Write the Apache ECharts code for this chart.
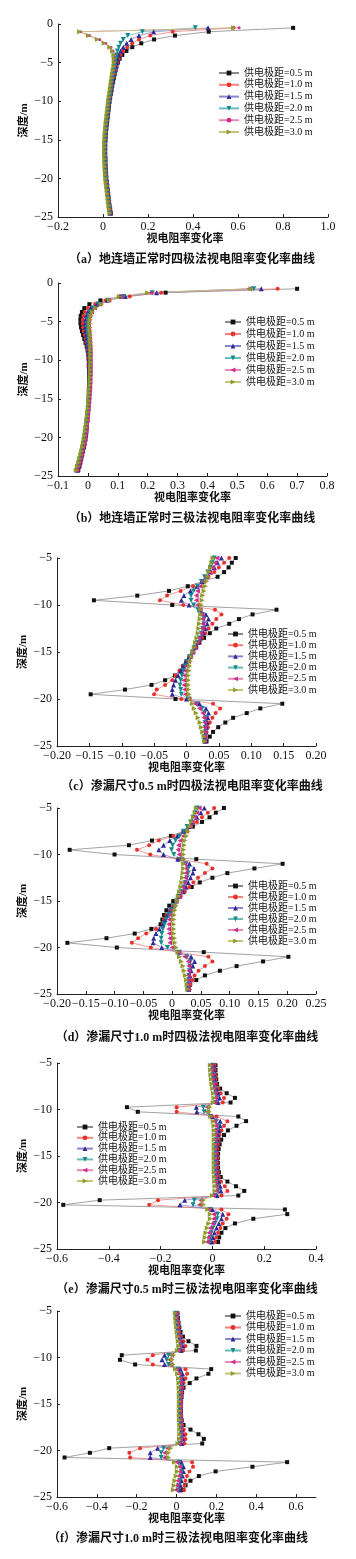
<!DOCTYPE html>
<html><head><meta charset="utf-8">
<script src="https://cdn.jsdelivr.net/npm/echarts@6/dist/echarts.min.js"></script>
<style>html,body{margin:0;padding:0;background:#fff}#c{width:356px;height:1559px}</style>
</head><body><div id="c"></div>
<script>
// ---------- depths (m) ----------
const depthA = [-0.5,-1,-1.5,-2,-2.5,-3,-3.5,-4,-4.5,-5,-5.5,-6,-6.5,-7,-7.5,-8,-8.5,-9,-9.5,-10,-10.5,-11,-11.5,-12,-12.5,-13,-13.5,-14,-14.5,-15,-15.5,-16,-16.5,-17,-17.5,-18,-18.5,-19,-19.5,-20,-20.5,-21,-21.5,-22,-22.5,-23,-23.5,-24,-24.5];
const depthB = [-0.75,-1.25,-1.75,-2.25,-2.75,-3.25,-3.75,-4.25,-4.75,-5.25,-5.75,-6.25,-6.75,-7.25,-7.75,-8.25,-8.75,-9.25,-9.75,-10.25,-10.75,-11.25,-11.75,-12.25,-12.75,-13.25,-13.75,-14.25,-14.75,-15.25,-15.75,-16.25,-16.75,-17.25,-17.75,-18.25,-18.75,-19.25,-19.75,-20.25,-20.75,-21.25,-21.75,-22.25,-22.75,-23.25,-23.75,-24.25];
const depthCD = [-5,-5.5,-6,-6.5,-7,-7.5,-8,-8.5,-9,-9.5,-10,-10.5,-11,-11.5,-12,-12.5,-13,-13.5,-14,-14.5,-15,-15.5,-16,-16.5,-17,-17.5,-18,-18.5,-19,-19.5,-20,-20.5,-21,-21.5,-22,-22.5,-23,-23.5,-24,-24.5];
const depthEF = [-5.25,-5.75,-6.25,-6.75,-7.25,-7.75,-8.25,-8.75,-9.25,-9.75,-10.25,-10.75,-11.25,-11.75,-12.25,-12.75,-13.25,-13.75,-14.25,-14.75,-15.25,-15.75,-16.25,-16.75,-17.25,-17.75,-18.25,-18.75,-19.25,-19.75,-20.25,-20.75,-21.25,-21.75,-22.25,-22.75,-23.25,-23.75,-24.25];

const seriesNames = ['供电极距=0.5 m','供电极距=1.0 m','供电极距=1.5 m','供电极距=2.0 m','供电极距=2.5 m','供电极距=3.0 m'];

// ---------- (a) ----------
const a05 = [0.845,0.47,0.32,0.227,0.17,0.13,0.104,0.086,0.074,0.066, 0.06,0.056,0.052,0.048,0.045,0.041,0.038,0.035,0.032,0.029, 0.027,0.025,0.023,0.021,0.019,0.017,0.015,0.013,0.012,0.011, 0.01,0.01,0.01,0.01,0.011,0.011,0.012,0.013,0.014,0.015, 0.017,0.019,0.021,0.023,0.025,0.027,0.029,0.032,0.035];
const a10 = [0.58,0.31,0.21,0.16,0.13,0.108,0.09,0.078,0.07,0.063, 0.058,0.054,0.05,0.046,0.043,0.04,0.037,0.034,0.031,0.028, 0.026,0.024,0.022,0.02,0.018,0.016,0.014,0.013,0.011,0.01, 0.009,0.009,0.009,0.009,0.01,0.01,0.011,0.012,0.013,0.014, 0.016,0.018,0.02,0.022,0.024,0.026,0.028,0.031,0.034];
const a15 = [0.467,0.225,0.16,0.125,0.105,0.09,0.078,0.07,0.064,0.06, 0.056,0.052,0.048,0.045,0.042,0.039,0.036,0.033,0.03,0.028, 0.025,0.023,0.021,0.019,0.017,0.015,0.014,0.012,0.011,0.01, 0.009,0.008,0.008,0.009,0.009,0.01,0.01,0.011,0.012,0.013, 0.015,0.017,0.019,0.021,0.023,0.025,0.027,0.03,0.033];
const a20 = [0.41,0.175,0.11,0.09,0.078,0.07,0.064,0.06,0.057,0.055, 0.052,0.049,0.046,0.043,0.04,0.037,0.035,0.032,0.03,0.027, 0.025,0.022,0.02,0.018,0.016,0.015,0.013,0.012,0.01,0.009, 0.008,0.008,0.008,0.008,0.009,0.009,0.01,0.011,0.012,0.013, 0.014,0.016,0.018,0.02,0.022,0.024,0.026,0.028,0.031];
const a25 = [0.605,-0.1,-0.06,-0.015,0.012,0.035,0.045,0.05,0.052,0.052, 0.05,0.047,0.044,0.041,0.038,0.036,0.033,0.031,0.028,0.026, 0.024,0.021,0.019,0.017,0.016,0.014,0.012,0.011,0.01,0.009, 0.008,0.007,0.007,0.008,0.008,0.009,0.01,0.011,0.012,0.013, 0.015,0.017,0.019,0.021,0.023,0.025,0.027,0.029,0.032];
const a30 = [0.58,-0.104,-0.065,-0.025,0.005,0.03,0.042,0.048,0.05,0.05, 0.048,0.045,0.042,0.04,0.037,0.035,0.032,0.03,0.027,0.025, 0.023,0.021,0.019,0.017,0.015,0.013,0.012,0.01,0.009,0.008, 0.007,0.007,0.007,0.007,0.008,0.008,0.009,0.01,0.011,0.012, 0.014,0.016,0.018,0.02,0.022,0.024,0.026,0.028,0.03];

// ---------- (b) ----------
const b05 = [0.70,0.26,0.11,0.042,0.005,-0.012,-0.02,-0.024,-0.025,-0.025, -0.023,-0.02,-0.016,-0.012,-0.008,-0.004,-0.001,0.001,0.002,0.003, 0.003,0.004,0.004,0.004,0.004,0.004,0.003,0.003,0.003,0.002, 0.002,0.001,0.0,-0.001,-0.002,-0.003,-0.004,-0.005,-0.006,-0.008, -0.011,-0.013,-0.016,-0.019,-0.022,-0.025,-0.028,-0.032];
const b10 = [0.635,0.245,0.14,0.06,0.025,0.0,-0.01,-0.015,-0.017,-0.017, -0.016,-0.014,-0.011,-0.008,-0.005,-0.002,0.0,0.002,0.003,0.004, 0.004,0.005,0.005,0.005,0.005,0.005,0.004,0.004,0.003,0.003, 0.002,0.001,0.0,-0.001,-0.002,-0.003,-0.004,-0.006,-0.007,-0.009, -0.011,-0.014,-0.017,-0.02,-0.023,-0.026,-0.03,-0.034];
const b15 = [0.58,0.23,0.125,0.065,0.03,0.01,0.0,-0.006,-0.008,-0.009, -0.009,-0.008,-0.006,-0.004,-0.002,0.0,0.002,0.003,0.004,0.005, 0.005,0.006,0.006,0.006,0.006,0.005,0.005,0.004,0.004,0.003, 0.002,0.001,0.0,-0.001,-0.002,-0.004,-0.005,-0.006,-0.008,-0.01, -0.012,-0.015,-0.018,-0.021,-0.024,-0.027,-0.031,-0.035];
const b20 = [0.555,0.215,0.12,0.068,0.035,0.017,0.007,0.001,-0.002,-0.003, -0.003,-0.002,-0.001,0.001,0.002,0.004,0.005,0.006,0.006,0.007, 0.007,0.007,0.007,0.007,0.006,0.006,0.005,0.005,0.004,0.003, 0.002,0.001,0.0,-0.001,-0.003,-0.004,-0.006,-0.007,-0.009,-0.011, -0.013,-0.016,-0.019,-0.022,-0.025,-0.029,-0.033,-0.037];
const b25 = [0.54,0.21,0.11,0.07,0.04,0.022,0.012,0.006,0.003,0.002, 0.002,0.003,0.004,0.005,0.006,0.007,0.008,0.008,0.008,0.008, 0.008,0.008,0.008,0.007,0.007,0.006,0.006,0.005,0.004,0.003, 0.002,0.001,0.0,-0.002,-0.003,-0.005,-0.006,-0.008,-0.01,-0.012, -0.014,-0.017,-0.02,-0.023,-0.027,-0.03,-0.034,-0.038];
const b30 = [0.545,0.2,0.105,0.072,0.045,0.027,0.016,0.011,0.008,0.007, 0.007,0.008,0.009,0.009,0.01,0.01,0.01,0.01,0.01,0.01, 0.009,0.009,0.009,0.008,0.008,0.007,0.006,0.005,0.004,0.003, 0.002,0.001,-0.001,-0.002,-0.004,-0.005,-0.007,-0.009,-0.011,-0.013, -0.015,-0.018,-0.021,-0.024,-0.028,-0.031,-0.035,-0.039];

// ---------- (c) ----------
const c05 = [0.076,0.07,0.065,0.058,0.048,0.025,0.002,-0.027,-0.076,-0.143, -0.022,0.139,0.102,0.081,0.066,0.046,0.036,0.027,0.02,0.015, 0.01,0.005,0.0,-0.005,-0.01,-0.018,-0.033,-0.054,-0.095,-0.148, -0.017,0.148,0.114,0.093,0.072,0.06,0.049,0.041,0.036,0.031];
const c10 = [0.066,0.058,0.05,0.043,0.034,0.024,0.01,-0.009,-0.03,-0.041, -0.005,0.044,0.054,0.046,0.04,0.034,0.029,0.024,0.019,0.014, 0.009,0.004,-0.001,-0.006,-0.011,-0.017,-0.022,-0.033,-0.046,-0.05, -0.008,0.041,0.052,0.045,0.04,0.036,0.033,0.031,0.03,0.029];
const c15 = [0.054,0.048,0.043,0.037,0.031,0.024,0.016,0.006,-0.004,-0.008, 0.004,0.02,0.03,0.034,0.032,0.029,0.026,0.022,0.018,0.013, 0.009,0.004,-0.001,-0.005,-0.009,-0.013,-0.017,-0.02,-0.022,-0.022, 0.0,0.02,0.03,0.034,0.033,0.032,0.031,0.03,0.029,0.029];
const c20 = [0.043,0.04,0.037,0.033,0.028,0.023,0.017,0.011,0.007,0.007, 0.011,0.018,0.024,0.027,0.027,0.025,0.023,0.02,0.017,0.013, 0.009,0.005,0.001,-0.002,-0.005,-0.007,-0.009,-0.01,-0.009,-0.008, 0.003,0.016,0.024,0.028,0.029,0.029,0.029,0.029,0.028,0.028];
const c25 = [0.047,0.044,0.04,0.036,0.031,0.026,0.021,0.017,0.015,0.015, 0.017,0.021,0.024,0.025,0.025,0.024,0.022,0.019,0.016,0.013, 0.01,0.006,0.003,0.0,-0.002,-0.003,-0.004,-0.004,-0.003,-0.002, 0.004,0.013,0.02,0.025,0.027,0.028,0.028,0.028,0.028,0.028];
const c30 = [0.041,0.039,0.037,0.035,0.033,0.031,0.029,0.027,0.025,0.024, 0.023,0.022,0.022,0.021,0.02,0.019,0.018,0.016,0.014,0.012, 0.01,0.008,0.006,0.005,0.004,0.003,0.003,0.003,0.003,0.004, 0.006,0.009,0.012,0.015,0.018,0.021,0.023,0.025,0.027,0.028];

// ---------- (d) ----------
const d05 = [0.09,0.076,0.065,0.052,0.036,0.02,-0.002,-0.035,-0.075,-0.178, -0.1,0.042,0.192,0.143,0.096,0.07,0.048,0.034,0.02,0.01, 0.002,-0.005,-0.01,-0.014,-0.017,-0.02,-0.036,-0.065,-0.114,-0.182, -0.096,0.055,0.202,0.158,0.112,0.083,0.057,0.042,0.031,0.028];
const d10 = [0.073,0.062,0.052,0.043,0.033,0.02,0.002,-0.023,-0.04,-0.061, -0.038,0.01,0.06,0.07,0.057,0.045,0.037,0.03,0.022,0.015, 0.008,0.002,-0.004,-0.01,-0.014,-0.016,-0.028,-0.045,-0.059,-0.07, -0.037,0.01,0.063,0.07,0.057,0.046,0.039,0.035,0.032,0.03];
const d15 = [0.056,0.05,0.043,0.036,0.029,0.02,0.009,-0.004,-0.015,-0.023, -0.015,0.01,0.03,0.038,0.036,0.032,0.028,0.024,0.019,0.013, 0.007,0.002,-0.003,-0.008,-0.012,-0.016,-0.022,-0.028,-0.032,-0.033, -0.018,0.012,0.033,0.039,0.036,0.033,0.031,0.03,0.029,0.029];
const d20 = [0.044,0.04,0.036,0.032,0.026,0.02,0.013,0.006,0.001,-0.001, 0.003,0.015,0.024,0.028,0.028,0.026,0.023,0.02,0.016,0.012, 0.007,0.002,-0.002,-0.006,-0.01,-0.013,-0.016,-0.018,-0.019,-0.019, -0.008,0.012,0.026,0.032,0.031,0.03,0.029,0.029,0.028,0.028];
const d25 = [0.047,0.043,0.039,0.035,0.03,0.025,0.019,0.014,0.011,0.01, 0.012,0.017,0.022,0.024,0.024,0.023,0.021,0.018,0.015,0.011, 0.007,0.003,0.0,-0.003,-0.005,-0.006,-0.006,-0.005,-0.004,-0.004, 0.0,0.012,0.022,0.028,0.029,0.029,0.028,0.028,0.027,0.027];
const d30 = [0.042,0.04,0.037,0.034,0.031,0.028,0.025,0.022,0.021,0.02, 0.02,0.02,0.02,0.02,0.019,0.018,0.017,0.015,0.013,0.011, 0.009,0.007,0.005,0.004,0.003,0.003,0.003,0.003,0.004,0.005, 0.007,0.01,0.013,0.016,0.019,0.021,0.023,0.025,0.026,0.027];

// ---------- (e) ----------
const e05 = [0.012,0.012,0.013,0.015,0.018,0.03,0.055,0.087,0.07,-0.33, -0.288,0.10,0.13,0.093,0.06,0.045,0.034,0.028,0.024,0.022, 0.021,0.021,0.022,0.025,0.032,0.058,0.091,0.123,0.1,-0.435, -0.576,0.28,0.289,0.158,0.087,0.05,0.035,0.026,0.022];
const e10 = [0.008,0.009,0.01,0.012,0.015,0.022,0.032,0.045,0.04,-0.138, -0.138,0.016,0.058,0.045,0.035,0.028,0.024,0.021,0.019,0.018, 0.018,0.018,0.019,0.021,0.025,0.033,0.048,0.058,0.035,-0.21, -0.244,0.035,0.062,0.055,0.04,0.031,0.022,0.015,0.01];
const e15 = [0.004,0.005,0.006,0.008,0.011,0.016,0.022,0.028,0.022,-0.062, -0.06,0.0,0.03,0.03,0.026,0.022,0.019,0.017,0.016,0.015, 0.015,0.015,0.016,0.017,0.02,0.024,0.03,0.033,0.018,-0.107, -0.125,0.0,0.04,0.035,0.025,0.016,0.008,0.002,-0.002];
const e20 = [0.0,0.001,0.002,0.004,0.007,0.01,0.014,0.018,0.013,-0.035, -0.032,-0.008,0.015,0.02,0.018,0.016,0.014,0.013,0.012,0.012, 0.012,0.012,0.012,0.013,0.015,0.017,0.02,0.022,0.01,-0.07, -0.075,-0.01,0.02,0.018,0.01,0.002,-0.004,-0.008,-0.011];
const e25 = [-0.004,-0.003,-0.002,0.0,0.003,0.006,0.009,0.012,0.008,-0.02, -0.02,-0.008,0.008,0.012,0.012,0.011,0.01,0.01,0.009,0.009, 0.009,0.009,0.009,0.01,0.011,0.012,0.014,0.015,0.004,-0.045, -0.05,-0.015,0.005,0.005,0.0,-0.008,-0.013,-0.017,-0.02];
const e30 = [-0.008,-0.007,-0.006,-0.004,-0.002,0.001,0.004,0.006,0.003,-0.01, -0.012,-0.006,0.003,0.006,0.007,0.007,0.007,0.007,0.007,0.007, 0.007,0.007,0.007,0.007,0.008,0.009,0.01,0.01,0.0,-0.035, -0.035,-0.018,-0.008,-0.008,-0.014,-0.02,-0.025,-0.028,-0.03];

// ---------- (f) ----------
const f05 = [0.005,0.007,0.01,0.014,0.02,0.032,0.06,0.1,0.097,-0.275, -0.284,-0.208,0.174,0.16,0.1,0.066,0.035,0.028,0.025,0.023, 0.022,0.022,0.023,0.026,0.035,0.07,0.11,0.137,0.129,-0.338, -0.435,-0.562,0.555,0.381,0.196,0.112,0.07,0.045,0.033];
const f10 = [0.003,0.005,0.008,0.011,0.015,0.022,0.035,0.045,0.033,-0.119, -0.146,-0.119,0.045,0.053,0.045,0.036,0.03,0.026,0.024,0.022, 0.021,0.021,0.022,0.024,0.028,0.036,0.045,0.045,0.04,-0.183, -0.237,-0.233,0.078,0.083,0.065,0.052,0.045,0.04,0.038];
const f15 = [0.001,0.003,0.006,0.009,0.012,0.017,0.025,0.032,0.022,-0.06, -0.073,-0.06,0.02,0.03,0.032,0.028,0.025,0.023,0.022,0.021, 0.02,0.02,0.021,0.022,0.024,0.028,0.032,0.032,0.026,-0.095, -0.132,-0.132,0.025,0.035,0.035,0.03,0.025,0.02,0.018];
const f20 = [-0.002,0.0,0.003,0.006,0.009,0.013,0.018,0.022,0.014,-0.04, -0.05,-0.04,0.008,0.02,0.024,0.022,0.021,0.02,0.019,0.019, 0.019,0.019,0.019,0.02,0.021,0.023,0.025,0.025,0.018,-0.065, -0.077,-0.077,0.012,0.025,0.027,0.022,0.016,0.011,0.008];
const f25 = [-0.004,-0.002,0.0,0.003,0.006,0.009,0.013,0.016,0.008,-0.025, -0.035,-0.028,0.0,0.012,0.017,0.018,0.018,0.018,0.017,0.017, 0.017,0.017,0.017,0.018,0.019,0.02,0.021,0.02,0.012,-0.045, -0.06,-0.06,0.0,0.015,0.016,0.011,0.006,0.001,-0.003];
const f30 = [-0.006,-0.004,-0.002,0.0,0.003,0.006,0.009,0.011,0.004,-0.015, -0.022,-0.018,-0.005,0.005,0.01,0.012,0.013,0.014,0.014,0.014, 0.014,0.014,0.014,0.015,0.016,0.016,0.016,0.015,0.007,-0.03, -0.04,-0.04,-0.01,0.004,0.004,-0.002,-0.008,-0.012,-0.016];

// ---------- layout / style ----------
const NUMFONT = '"Liberation Serif", "Times New Roman", serif';
const CNFONT = '"Liberation Serif", "Noto Sans CJK SC", serif';

const panels = [
  {d: depthA, v: [a05,a10,a15,a20,a25,a30], g: [58,24,270,193], x: [-0.2,1.0,0.2,1], y: [-25,0], lg: [218,68,20,1.8], cap: ['（a）地连墙正常时四极法视电阻率变化率曲线',192,260], namePad: [0,16,0,0], dot: true},
  {d: depthB, v: [b05,b10,b15,b20,b25,b30], g: [58,283,269,193], x: [-0.1,0.8,0.1,1], y: [-25,0], lg: [224,317,16,2], cap: ['（b）地连墙正常时三极法视电阻率变化率曲线',192,519]},
  {d: depthCD, v: [c05,c10,c15,c20,c25,c30], g: [57,558,259,188], x: [-0.2,0.2,0.05,2], y: [-25,-5], lg: [227,629,15,1.2], cap: ['（c）渗漏尺寸0.5 m时四极法视电阻率变化率曲线',192,787]},
  {d: depthCD, v: [d05,d10,d15,d20,d25,d30], g: [57,808,259,186], x: [-0.2,0.25,0.05,2], y: [-25,-5], lg: [227,881,15,1], cap: ['（d）渗漏尺寸1.0 m时四极法视电阻率变化率曲线',187,1038]},
  {d: depthEF, v: [e05,e10,e15,e20,e25,e30], g: [57,1063,259,186], x: [-0.6,0.4,0.2,1], y: [-25,-5], lg: [76,1122,16,0.8], cap: ['（e）渗漏尺寸0.5 m时三极法视电阻率变化率曲线',187,1290]},
  {d: depthEF, v: [f05,f10,f15,f20,f25,f30], g: [57,1311,259,186], x: [-0.6,0.7,0.2,1], y: [-25,-5], lg: [224,1311,16,1.5], cap: ['（f）渗漏尺寸1.0 m时三极法视电阻率变化率曲线',178,1539], hideMax: true}
];

const sty = [
  {symbol: 'rect', size: 4, rot: 0, color: '#111111', line: '#8a8a8a'},
  {symbol: 'circle', size: 4, rot: 0, color: '#e8312c', line: '#f08282'},
  {symbol: 'triangle', size: 5, rot: 0, color: '#2e2a96', line: '#8a86c8'},
  {symbol: 'triangle', size: 5, rot: 180, color: '#138a8a', line: '#6cbaba'},
  {symbol: 'triangle', size: 5, rot: 90, color: '#d02c8c', line: '#e58ab8'},
  {symbol: 'triangle', size: 5, rot: -90, color: '#8f9a2a', line: '#c4c47a'}
];

function fmtX(dec) {
  return function (v) {
    if (Math.abs(v) < 1e-9) return '0';
    return (v < 0 ? '\u2212' : '') + Math.abs(v).toFixed(dec);
  };
}
function fmtY(v) {
  if (Math.abs(v) < 1e-9) return '0';
  return (v < 0 ? '\u2212' : '') + Math.abs(v);
}

const grid = [], xAxis = [], yAxis = [], series = [], legend = [], graphic = [];
panels.forEach(function (p, i) {
  grid.push({left: p.g[0], top: p.g[1], width: p.g[2], height: p.g[3], containLabel: false});
  const axisCommon = {
    gridIndex: i,
    axisLine: {show: true, onZero: false, lineStyle: {color: '#222', width: 1}},
    axisTick: {show: true, inside: true, length: 3, lineStyle: {color: '#222', width: 1}},
    splitLine: {show: false},
    nameMoveOverlap: false
  };
  xAxis.push(Object.assign({}, axisCommon, {
    type: 'value', min: p.x[0], max: p.x[1], interval: p.x[2],
    axisLabel: {formatter: fmtX(p.x[3]), margin: 4, color: '#111', fontSize: 12, fontFamily: NUMFONT, showMinLabel: true, showMaxLabel: !p.hideMax},
    name: '视电阻率变化率', nameLocation: 'middle', nameGap: 17,
    nameTextStyle: {fontSize: 11, fontFamily: CNFONT, fontWeight: 'bold', color: '#111', padding: p.namePad || 0}
  }));
  yAxis.push(Object.assign({}, axisCommon, {
    type: 'value', min: p.y[0], max: p.y[1], interval: 5,
    axisLabel: {formatter: fmtY, margin: 5, color: '#111', fontSize: 12, fontFamily: NUMFONT},
    name: '深度/m', nameLocation: 'middle', nameGap: 28,
    nameTextStyle: {fontSize: 11, fontFamily: CNFONT, fontWeight: 'bold', color: '#111'}
  }));
  const names = [];
  p.v.forEach(function (vals, k) {
    const s = sty[k];
    let name = seriesNames[k];
    let symbol = s.symbol, size = s.size, rot = s.rot;
    if (p.dot && k === 4) { name = seriesNames[k] + ' '; symbol = 'circle'; size = 3; rot = 0; }
    names.push(name);
    series.push({
      type: 'line', name: name, xAxisIndex: i, yAxisIndex: i,
      data: p.d.map(function (dep, j) { return [vals[j], dep]; }),
      symbol: symbol, symbolSize: size, symbolRotate: rot, showAllSymbol: true,
      itemStyle: {color: s.color},
      lineStyle: {color: s.line, width: 0.8},
      emphasis: {disabled: true}, animation: false, clip: false
    });
  });
  legend.push({
    orient: 'vertical', left: p.lg[0], top: p.lg[1], itemWidth: p.lg[2], itemHeight: 6, itemGap: p.lg[3],
    padding: 0, selectedMode: false, data: names,
    textStyle: {fontSize: 10, fontFamily: CNFONT, color: '#111', lineHeight: 10}
  });
  graphic.push({
    type: 'text', x: p.cap[1], y: p.cap[2],
    style: {text: p.cap[0], font: 'bold 12px ' + CNFONT, fill: '#111', textAlign: 'center', textVerticalAlign: 'middle', align: 'center', verticalAlign: 'middle'}
  });
});

const chart = echarts.init(document.getElementById('c'), null, {renderer: 'canvas'});
chart.setOption({
  backgroundColor: '#fff', animation: false,
  grid: grid, xAxis: xAxis, yAxis: yAxis, series: series, legend: legend, graphic: graphic
});
</script></body></html>
